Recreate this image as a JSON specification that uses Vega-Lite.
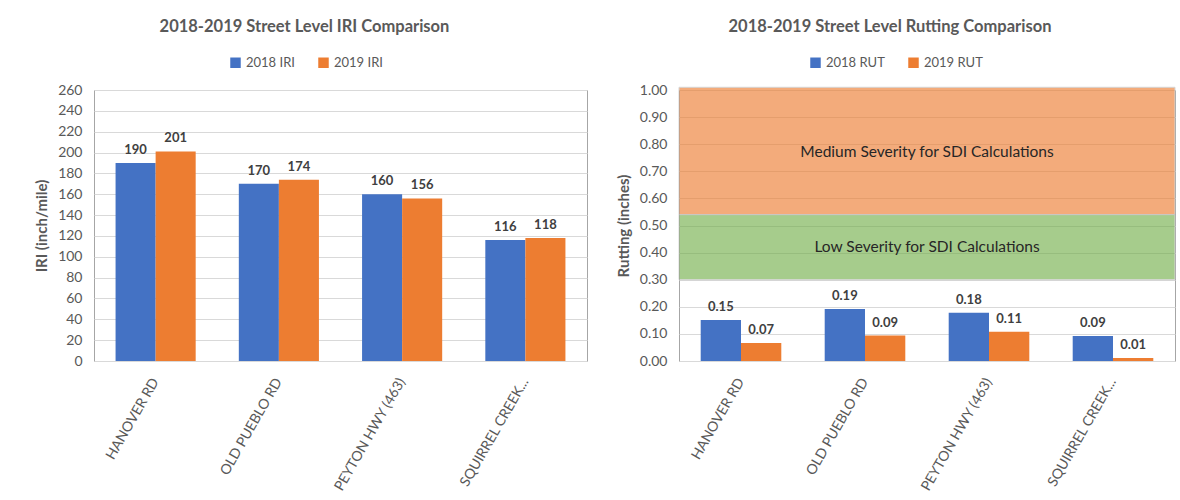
{
  "$schema": "https://vega.github.io/schema/vega-lite/v6.json",
  "background": "white",
  "padding": {"left": 34, "top": 18, "right": 4, "bottom": 0},
  "spacing": 27,
  "config": {
    "font": "Lato",
    "view": {"stroke": "#A6A6A6", "strokeWidth": 1},
    "axis": {
      "labelFont": "Lato", "labelFontSize": 14, "labelColor": "#595959",
      "titleFont": "Lato", "titleFontSize": 15, "titleColor": "#595959", "titleFontWeight": "bold",
      "domain": false, "ticks": false, "gridColor": "#D9D9D9"
    },
    "legend": {
      "labelFont": "Lato", "labelFontSize": 13, "labelColor": "#595959",
      "symbolType": "square", "symbolSize": 110, "symbolStrokeWidth": 0, "columnPadding": 22
    },
    "title": {"font": "Lato", "fontSize": 16.5, "fontWeight": "bold", "color": "#595959"}
  },
  "datasets": {
    "iri": [
      {"road": "HANOVER RD", "series": "2018 IRI", "value": 190},
      {"road": "HANOVER RD", "series": "2019 IRI", "value": 201},
      {"road": "OLD PUEBLO RD", "series": "2018 IRI", "value": 170},
      {"road": "OLD PUEBLO RD", "series": "2019 IRI", "value": 174},
      {"road": "PEYTON HWY (463)", "series": "2018 IRI", "value": 160},
      {"road": "PEYTON HWY (463)", "series": "2019 IRI", "value": 156},
      {"road": "SQUIRREL CREEK...", "series": "2018 IRI", "value": 116},
      {"road": "SQUIRREL CREEK...", "series": "2019 IRI", "value": 118}
    ],
    "rut": [
      {"road": "HANOVER RD", "series": "2018 RUT", "value": 0.151},
      {"road": "HANOVER RD", "series": "2019 RUT", "value": 0.066},
      {"road": "OLD PUEBLO RD", "series": "2018 RUT", "value": 0.192},
      {"road": "OLD PUEBLO RD", "series": "2019 RUT", "value": 0.094},
      {"road": "PEYTON HWY (463)", "series": "2018 RUT", "value": 0.178},
      {"road": "PEYTON HWY (463)", "series": "2019 RUT", "value": 0.108},
      {"road": "SQUIRREL CREEK...", "series": "2018 RUT", "value": 0.092},
      {"road": "SQUIRREL CREEK...", "series": "2019 RUT", "value": 0.011}
    ],
    "bands": [
      {"band": "low", "lo": 0.30, "hi": 0.54, "mid": 0.42, "label": "Low Severity for SDI Calculations"},
      {"band": "medium", "lo": 0.54, "hi": 1.01, "mid": 0.77, "label": "Medium Severity for SDI Calculations"}
    ]
  },
  "resolve": {"scale": {"color": "independent", "y": "independent", "x": "independent"}, "legend": {"color": "independent"}},
  "hconcat": [
    {
      "width": 493, "height": 271,
      "title": {"text": "2018-2019 Street Level IRI Comparison", "anchor": "middle", "dx": -36, "offset": 21},
      "data": {"name": "iri"},
      "encoding": {
        "y": {"field": "value", "type": "quantitative", "scale": {"domain": [0, 260], "nice": false, "zero": true},
              "axis": {"title": "IRI (inch/mile)", "values": [0, 20, 40, 60, 80, 100, 120, 140, 160, 180, 200, 220, 240, 260], "labelPadding": 12, "titlePadding": 8}}
      },
      "layer": [
        {"transform": [{"filter": "datum.series === '2018 IRI'"}],
         "mark": {"type": "bar"},
         "encoding": {
           "x": {"field": "road", "type": "nominal", "sort": null, "bandPosition": 0,
                 "scale": {"type": "band", "paddingInner": 0.35, "paddingOuter": 0.175},
                 "axis": {"title": null, "labelAngle": -60, "labelPadding": 18, "grid": false, "bandPosition": 0.5}},
           "x2": {"field": "road", "bandPosition": 0.5},
           "y2": {"datum": 0},
           "color": {"field": "series", "type": "nominal",
             "scale": {"domain": ["2018 IRI", "2019 IRI"], "range": ["#4472C4", "#ED7D31"]},
             "legend": {"title": null, "orient": "none", "direction": "horizontal", "legendX": 135, "legendY": -34}}}},
        {"transform": [{"filter": "datum.series === '2019 IRI'"}],
         "mark": {"type": "bar"},
         "encoding": {
           "x": {"field": "road", "type": "nominal", "sort": null, "bandPosition": 0.5,
                 "scale": {"type": "band", "paddingInner": 0.35, "paddingOuter": 0.175},
                 "axis": {"title": null, "labelAngle": -60, "labelPadding": 18, "grid": false, "bandPosition": 0.5}},
           "x2": {"field": "road", "bandPosition": 1},
           "y2": {"datum": 0},
           "color": {"field": "series", "type": "nominal",
             "scale": {"domain": ["2018 IRI", "2019 IRI"], "range": ["#4472C4", "#ED7D31"]},
             "legend": {"title": null, "orient": "none", "direction": "horizontal", "legendX": 135, "legendY": -34}}}},
        {"transform": [{"filter": "datum.series === '2018 IRI'"}],
         "mark": {"type": "text", "baseline": "bottom", "dy": -6, "fontWeight": "bold", "fontSize": 13, "color": "#404040"},
         "encoding": {
           "x": {"field": "road", "type": "nominal", "sort": null, "bandPosition": 0.25,
                 "scale": {"type": "band", "paddingInner": 0.35, "paddingOuter": 0.175},
                 "axis": {"title": null, "labelAngle": -60, "labelPadding": 18, "grid": false, "bandPosition": 0.5}},
           "text": {"field": "value", "type": "quantitative", "format": "d"}}},
        {"transform": [{"filter": "datum.series === '2019 IRI'"}],
         "mark": {"type": "text", "baseline": "bottom", "dy": -6, "fontWeight": "bold", "fontSize": 13, "color": "#404040"},
         "encoding": {
           "x": {"field": "road", "type": "nominal", "sort": null, "bandPosition": 0.75,
                 "scale": {"type": "band", "paddingInner": 0.35, "paddingOuter": 0.175},
                 "axis": {"title": null, "labelAngle": -60, "labelPadding": 18, "grid": false, "bandPosition": 0.5}},
           "text": {"field": "value", "type": "quantitative", "format": "d"}}}
      ]
    },
    {
      "width": 496, "height": 271,
      "title": {"text": "2018-2019 Street Level Rutting Comparison", "anchor": "middle", "dx": -37, "offset": 21},
      "layer": [
        {"data": {"name": "bands"},
         "transform": [{"filter": "datum.band === 'medium'"}],
         "mark": {"type": "rect", "color": "#ED7D31", "opacity": 0.64, "stroke": "#BFBFBF", "strokeOpacity": 1, "strokeWidth": 1, "clip": false},
         "encoding": {
           "y": {"field": "lo", "type": "quantitative", "scale": {"domain": [0, 1], "nice": false, "zero": true},
                 "axis": {"title": "Rutting (inches)", "format": ".2f", "values": [0, 0.1, 0.2, 0.3, 0.4, 0.5, 0.6, 0.7, 0.8, 0.9, 1.0], "labelPadding": 12, "titlePadding": 8}},
           "y2": {"field": "hi"}
         }},
        {"data": {"name": "bands"},
         "transform": [{"filter": "datum.band === 'low'"}],
         "mark": {"type": "rect", "color": "#70AD47", "opacity": 0.62, "stroke": "#BFBFBF", "strokeOpacity": 1, "strokeWidth": 1},
         "encoding": {
           "y": {"field": "lo", "type": "quantitative", "scale": {"domain": [0, 1], "nice": false, "zero": true},
                 "axis": {"title": "Rutting (inches)", "format": ".2f", "values": [0, 0.1, 0.2, 0.3, 0.4, 0.5, 0.6, 0.7, 0.8, 0.9, 1.0], "labelPadding": 12, "titlePadding": 8}},
           "y2": {"field": "hi"}
         }},
        {"data": {"name": "bands"},
         "mark": {"type": "text", "fontSize": 15.5, "color": "#262626"},
         "encoding": {
           "y": {"field": "mid", "type": "quantitative", "scale": {"domain": [0, 1], "nice": false, "zero": true},
                 "axis": {"title": "Rutting (inches)", "format": ".2f", "values": [0, 0.1, 0.2, 0.3, 0.4, 0.5, 0.6, 0.7, 0.8, 0.9, 1.0], "labelPadding": 12, "titlePadding": 8}},
           "text": {"field": "label", "type": "nominal"}
         }},
        {"data": {"name": "rut"},
         "encoding": {
           "y": {"field": "value", "type": "quantitative", "scale": {"domain": [0, 1], "nice": false, "zero": true},
                 "axis": {"title": "Rutting (inches)", "format": ".2f", "values": [0, 0.1, 0.2, 0.3, 0.4, 0.5, 0.6, 0.7, 0.8, 0.9, 1.0], "labelPadding": 12, "titlePadding": 8}}
         },
         "layer": [
           {"transform": [{"filter": "datum.series === '2018 RUT'"}],
            "mark": {"type": "bar"},
            "encoding": {
              "x": {"field": "road", "type": "nominal", "sort": null, "bandPosition": 0,
                    "scale": {"type": "band", "paddingInner": 0.35, "paddingOuter": 0.175},
                    "axis": {"title": null, "labelAngle": -60, "labelPadding": 18, "grid": false, "bandPosition": 0.5}},
              "x2": {"field": "road", "bandPosition": 0.5},
              "y2": {"datum": 0},
              "color": {"field": "series", "type": "nominal",
                "scale": {"domain": ["2018 RUT", "2019 RUT"], "range": ["#4472C4", "#ED7D31"]},
                "legend": {"title": null, "orient": "none", "direction": "horizontal", "legendX": 130, "legendY": -34}}}},
           {"transform": [{"filter": "datum.series === '2019 RUT'"}],
            "mark": {"type": "bar"},
            "encoding": {
              "x": {"field": "road", "type": "nominal", "sort": null, "bandPosition": 0.5,
                    "scale": {"type": "band", "paddingInner": 0.35, "paddingOuter": 0.175},
                    "axis": {"title": null, "labelAngle": -60, "labelPadding": 18, "grid": false, "bandPosition": 0.5}},
              "x2": {"field": "road", "bandPosition": 1},
              "y2": {"datum": 0},
              "color": {"field": "series", "type": "nominal",
                "scale": {"domain": ["2018 RUT", "2019 RUT"], "range": ["#4472C4", "#ED7D31"]},
                "legend": {"title": null, "orient": "none", "direction": "horizontal", "legendX": 130, "legendY": -34}}}},
           {"transform": [{"filter": "datum.series === '2018 RUT'"}],
            "mark": {"type": "text", "baseline": "bottom", "dy": -6, "fontWeight": "bold", "fontSize": 13, "color": "#404040"},
            "encoding": {
              "x": {"field": "road", "type": "nominal", "sort": null, "bandPosition": 0.25,
                    "scale": {"type": "band", "paddingInner": 0.35, "paddingOuter": 0.175},
                    "axis": {"title": null, "labelAngle": -60, "labelPadding": 18, "grid": false, "bandPosition": 0.5}},
              "text": {"field": "value", "type": "quantitative", "format": ".2f"}}},
           {"transform": [{"filter": "datum.series === '2019 RUT'"}],
            "mark": {"type": "text", "baseline": "bottom", "dy": -6, "fontWeight": "bold", "fontSize": 13, "color": "#404040"},
            "encoding": {
              "x": {"field": "road", "type": "nominal", "sort": null, "bandPosition": 0.75,
                    "scale": {"type": "band", "paddingInner": 0.35, "paddingOuter": 0.175},
                    "axis": {"title": null, "labelAngle": -60, "labelPadding": 18, "grid": false, "bandPosition": 0.5}},
              "text": {"field": "value", "type": "quantitative", "format": ".2f"}}}
         ]}
      ]
    }
  ]
}
